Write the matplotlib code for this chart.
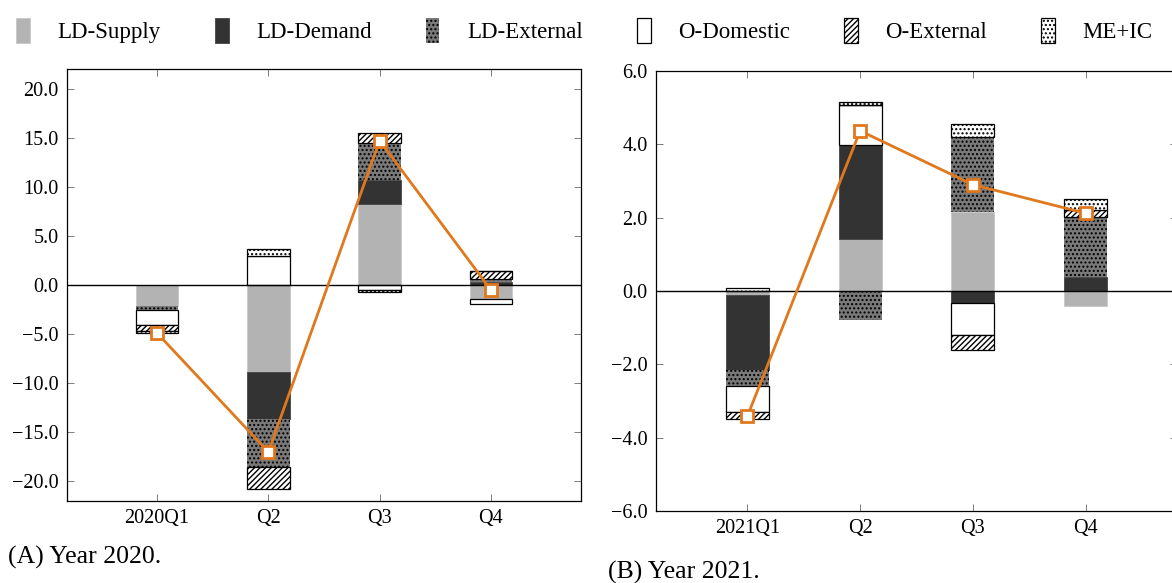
import numpy as np
import matplotlib.pyplot as plt

plt.rcParams['font.family'] = ['Liberation Serif', 'DejaVu Serif']
plt.rcParams['hatch.linewidth'] = 1.0

series = ["LD-Supply", "LD-Demand", "LD-External", "O-Domestic", "O-External", "ME+IC"]

quarters_20 = ["2020Q1", "Q2", "Q3", "Q4"]
ld_supply_20 = [-2.1, -8.9, 8.3, -1.4]
ld_demand_20 = [0.0, -4.7, 2.4, 0.35]
ld_external_20 = [-0.45, -4.9, 3.75, 0.25]
o_domestic_20 = [-1.55, 3.0, -0.55, -0.55]
o_external_20 = [-0.6, -2.25, 1.0, 0.85]
me_ic_20 = [-0.2, 0.7, -0.2, 0.0]
net_20 = [-4.9, -17.0, 14.7, -0.5]

quarters_21 = ["2021Q1", "Q2", "Q3", "Q4"]
ld_supply_21 = [-0.1, 1.43, 2.15, -0.4]
ld_demand_21 = [-2.05, 2.55, -0.34, 0.38]
ld_external_21 = [-0.45, -0.8, 2.06, 1.65]
o_domestic_21 = [-0.7, 1.1, -0.87, 0.0]
o_external_21 = [-0.2, 0.0, -0.41, 0.19]
me_ic_21 = [0.08, 0.08, 0.35, 0.3]
net_21 = [-3.42, 4.37, 2.9, 2.12]

# face, hatch, border
styles = [
    dict(color="#b3b3b3", edgecolor="#c8c8c8", linewidth=0.6),
    dict(color="#333333", edgecolor="#444444", linewidth=0.6),
    dict(color="#7a7a7a", edgecolor="black", hatch="....", linewidth=0),
    dict(color="white", edgecolor="black", linewidth=0.9),
    dict(color="white", edgecolor="black", hatch="//////", linewidth=0.9),
    dict(color="white", edgecolor="black", hatch="....", linewidth=0.9),
]

orange = "#e0781e"


def draw_panel(ax, labels, comps, net, ylim, yticks):
    x = np.arange(len(labels))
    pos = np.zeros(len(labels))
    neg = np.zeros(len(labels))
    handles = []
    for name, vals, st in zip(series, comps, styles):
        vals = np.array(vals)
        base = np.where(vals >= 0, pos, neg)
        b = ax.bar(x, vals, 0.38, bottom=base, label=name, zorder=2, **st)
        handles.append(b)
        pos = pos + np.clip(vals, 0, None)
        neg = neg + np.clip(vals, None, 0)
    ax.axhline(0, color="black", lw=1.0, zorder=3)
    ax.plot(x, net, color=orange, lw=2, marker="s", ms=8, mfc="white",
            mec=orange, mew=2, zorder=4)
    ax.set_xlim(-0.81, len(labels) - 1 + 0.81)
    ax.set_ylim(*ylim)
    ax.set_yticks(yticks)
    ax.set_yticklabels([f"{t:.1f}".replace("-", "\u2212") for t in yticks])
    ax.set_xticks(x)
    ax.set_xticklabels(labels)
    ax.tick_params(direction="in", length=5, top=True, right=True,
                   labelsize=14.5, width=0.6, color="#666666", pad=6)
    for s in ax.spines.values():
        s.set_linewidth(0.9)
    return handles


fig = plt.figure(figsize=(11.72, 5.83), dpi=100)
ax1 = fig.add_axes([67 / 1172, 1 - 501 / 583, 514 / 1172, 432 / 583])
ax2 = fig.add_axes([656 / 1172, 1 - 511 / 583, 521 / 1172, 440 / 583])

h = draw_panel(ax1, quarters_20,
               [ld_supply_20, ld_demand_20, ld_external_20, o_domestic_20, o_external_20, me_ic_20],
               net_20, (-22, 22), np.arange(-20, 21, 5))
draw_panel(ax2, quarters_21,
           [ld_supply_21, ld_demand_21, ld_external_21, o_domestic_21, o_external_21, me_ic_21],
           net_21, (-6, 6), np.arange(-6, 7, 2))

fig.legend(h, series, loc="lower left", ncol=6, mode="expand", frameon=False,
           bbox_to_anchor=(0.006, 0.91, 0.985, 0.08), fontsize=16.5,
           handlelength=0.6, handleheight=1.3, handletextpad=1.2, borderaxespad=0)

fig.text(8 / 1172, 1 - 557 / 583, "(A) Year 2020.", fontsize=18.5, va="center")
fig.text(608 / 1172, 1 - 572 / 583, "(B) Year 2021.", fontsize=18.5, va="center")

fig.savefig("out.png", dpi=100)
